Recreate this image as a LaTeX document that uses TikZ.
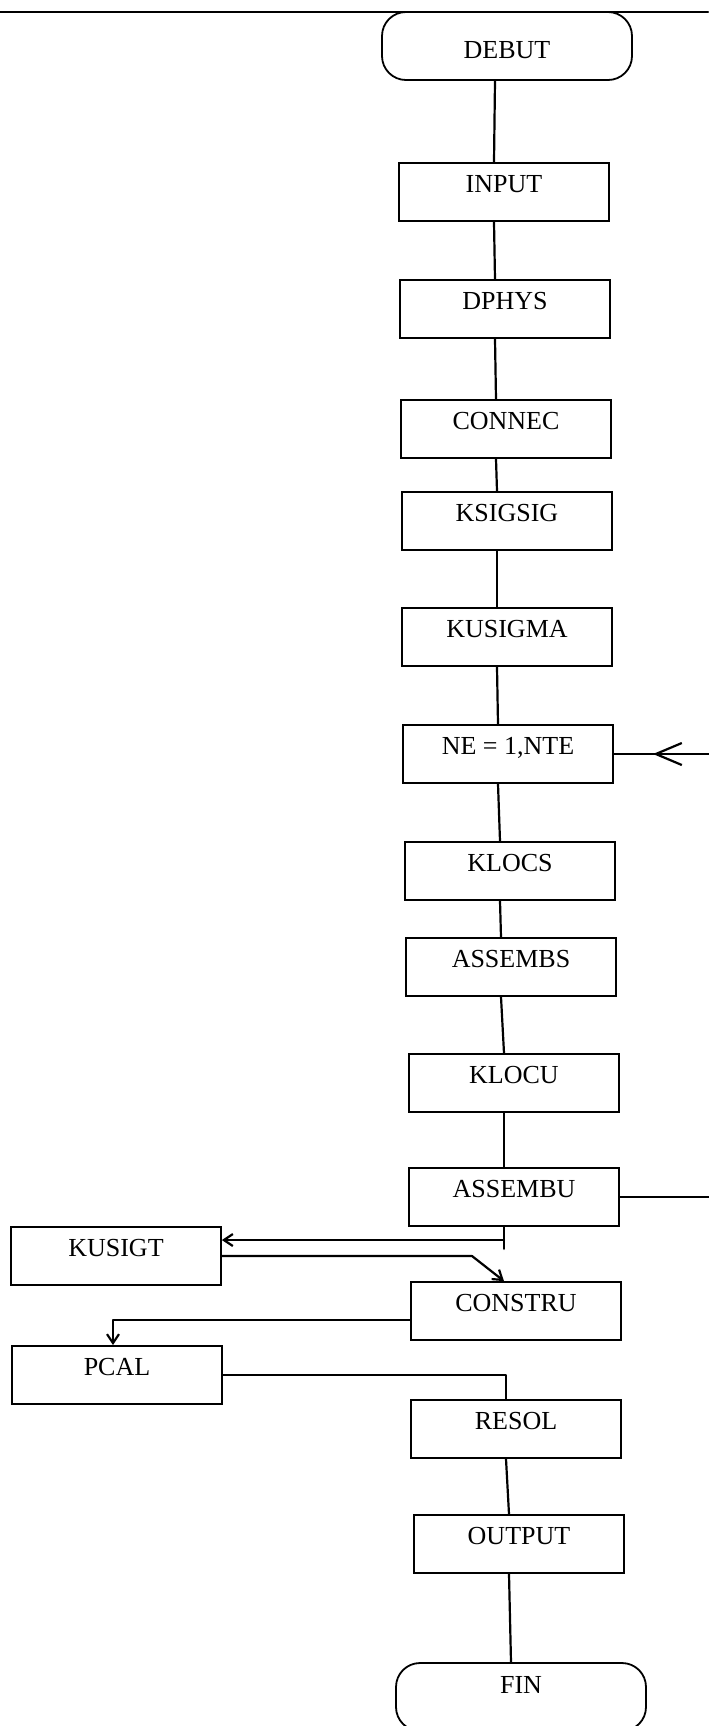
\documentclass[tikz,border=0pt]{standalone}
\usepackage{fontspec}
\setmainfont{Liberation Serif}
\usepackage{tikz}
\usetikzlibrary{arrows.meta}
\tikzset{
  link/.style={line width=1.1pt, line cap=round, line join=round},
  barb/.style={link, -{Straight Barb[length=4.5pt, width=6pt]}},
  stepbox/.style={
    draw=black,
    line width=0.9pt,
    fill=white,
    minimum width=105pt,
    inner xsep=2pt,
    inner ysep=0pt,
    text height=14.8pt,
    text depth=14.2pt,
    font=\fontsize{13pt}{15pt}\selectfont
  },
  terminal/.style={
    draw=black,
    line width=0.9pt,
    fill=white,
    rounded corners=12pt,
    minimum width=125pt,
    inner ysep=0pt,
    font=\fontsize{13pt}{15pt}\selectfont
  }
}
\begin{document}
\begin{tikzpicture}[x=0.5pt,y=-0.5pt]
\path[use as bounding box] (0,0) rectangle (708,1726);
\fill[white] (0,0) rectangle (708,1726);
\coordinate (ruleW) at (0,12);
\coordinate (ruleE) at (708,12);
\draw[link, line width=1.3pt] (ruleW) -- (ruleE);

\node[terminal, text height=23.3pt, text depth=10.7pt] (debut) at (507,46) {DEBUT};
\node[stepbox] (input)   at (504,192)  {INPUT};
\node[stepbox] (dphys)   at (505,309)  {DPHYS};
\node[stepbox] (connec)  at (506,429)  {CONNEC};
\node[stepbox] (ksigsig) at (507,521)  {KSIGSIG};
\node[stepbox] (kusigma) at (507,637)  {KUSIGMA};
\node[stepbox] (ne)      at (508,754)  {NE = 1,NTE};
\node[stepbox] (klocs)   at (510,871)  {KLOCS};
\node[stepbox] (assembs) at (511,967)  {ASSEMBS};
\node[stepbox] (klocu)   at (514,1083) {KLOCU};
\node[stepbox] (assembu) at (514,1197) {ASSEMBU};
\node[stepbox] (kusigt)  at (116,1256) {KUSIGT};
\node[stepbox] (constru) at (516,1311) {CONSTRU};
\node[stepbox] (pcal)    at (117,1375) {PCAL};
\node[stepbox] (resol)   at (516,1429) {RESOL};
\node[stepbox] (output)  at (519,1544) {OUTPUT};
\node[terminal, text height=15.3pt, text depth=18.7pt] (fin) at (521,1697) {FIN};

\draw[link] ([xshift=-6pt]debut.south) -- ([xshift=-5pt]input.north);
\draw[link] ([xshift=-5pt]input.south) -- ([xshift=-5pt]dphys.north);
\draw[link] ([xshift=-5pt]dphys.south) -- ([xshift=-5pt]connec.north);
\draw[link] ([xshift=-5pt]connec.south) -- ([xshift=-5pt]ksigsig.north);
\draw[link] ([xshift=-5pt]ksigsig.south) -- ([xshift=-5pt]kusigma.north);
\draw[link] ([xshift=-5pt]kusigma.south) -- ([xshift=-5pt]ne.north);
\draw[link] ([xshift=-5pt]ne.south) -- ([xshift=-5pt]klocs.north);
\draw[link] ([xshift=-5pt]klocs.south) -- ([xshift=-5pt]assembs.north);
\draw[link] ([xshift=-5pt]assembs.south) -- ([xshift=-5pt]klocu.north);
\draw[link] ([xshift=-5pt]klocu.south) -- ([xshift=-5pt]assembu.north);
\draw[link] ([xshift=-5pt]resol.south) -- ([xshift=-5pt]output.north);
\draw[link] ([xshift=-5pt]output.south) -- ([xshift=-5pt]fin.north);

\coordinate (loopS) at (716,1197);
\coordinate (loopN) at (716,754);
\coordinate (loopTip) at (653,754);
\draw[link, line width=1.4pt] (assembu.east) -- (loopS) -- (loopN) -- (ne.east);
\draw[link, -{Straight Barb[length=13pt, width=11pt]}] (loopN) -- (loopTip);

\coordinate (teeA) at (504,1240);
\coordinate (bendB) at (472,1256);
\coordinate (bendC) at (113,1320);
\draw[link] (assembu.south -| teeA) -- ++(0,22);
\draw[barb] (teeA) -- (kusigt.east |- teeA);
\draw[barb] (kusigt.east) -- (bendB) -- (constru.north -| teeA);
\draw[barb] (constru.west |- bendC) -| (pcal.north -| bendC);
\draw[link] (pcal.east) -| ([xshift=-5pt]resol.north);
\end{tikzpicture}
\end{document}
